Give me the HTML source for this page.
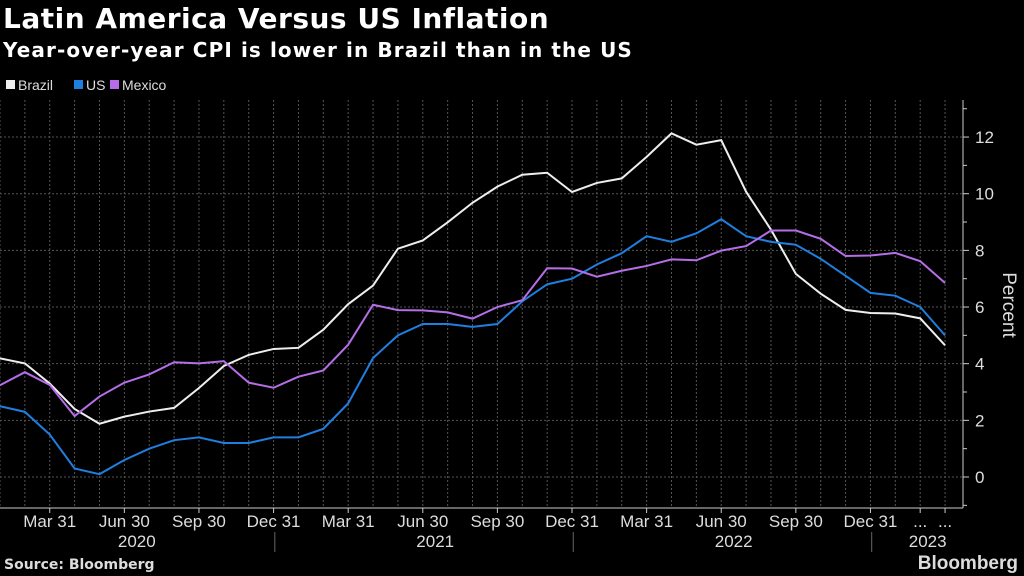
<!DOCTYPE html>
<html><head><meta charset="utf-8"><style>
body{margin:0;background:#000;width:1024px;height:576px;overflow:hidden;font-family:"Liberation Sans",sans-serif;color:#fff}
#t{position:absolute;left:3px;top:2px;font-size:28px;font-weight:bold;font-family:"DejaVu Sans",sans-serif;letter-spacing:0.5px}
#s{position:absolute;left:3px;top:38px;font-size:20px;font-weight:bold;font-family:"DejaVu Sans",sans-serif;letter-spacing:1.1px}
#src{position:absolute;left:4px;bottom:3px;font-size:14px;font-weight:bold;color:#ddd;font-family:"DejaVu Sans",sans-serif}
#bb{position:absolute;right:6px;bottom:1px;font-size:19px;font-weight:bold;color:#ddd}
</style></head><body>
<div id="t">Latin America Versus US Inflation</div>
<div id="s">Year-over-year CPI is lower in Brazil than in the US</div>
<div id="src">Source: Bloomberg</div>
<div id="bb">Bloomberg</div>
<svg id="c" width="1024" height="576" style="position:absolute;left:0;top:0"></svg>
<script>
const brazil=[4.19,4.01,3.30,2.40,1.88,2.13,2.31,2.44,3.14,3.92,4.31,4.52,4.56,5.20,6.10,6.76,8.06,8.35,8.99,9.68,10.25,10.67,10.74,10.06,10.38,10.54,11.30,12.13,11.73,11.89,10.07,8.73,7.17,6.47,5.90,5.79,5.77,5.60,4.65];
const us=[2.5,2.3,1.5,0.3,0.1,0.6,1.0,1.3,1.4,1.2,1.2,1.4,1.4,1.7,2.6,4.2,5.0,5.4,5.4,5.3,5.4,6.2,6.8,7.0,7.5,7.9,8.5,8.3,8.6,9.1,8.5,8.3,8.2,7.7,7.1,6.5,6.4,6.0,5.0];
const mexico=[3.24,3.70,3.25,2.15,2.84,3.33,3.62,4.05,4.01,4.09,3.33,3.15,3.54,3.76,4.67,6.08,5.89,5.88,5.81,5.59,6.00,6.24,7.37,7.36,7.07,7.28,7.45,7.68,7.65,7.99,8.15,8.70,8.70,8.41,7.80,7.82,7.91,7.62,6.85];
const yTicks=[0,2,4,6,8,10,12];
const xLabels=[[2,"Mar 31"],[5,"Jun 30"],[8,"Sep 30"],[11,"Dec 31"],[14,"Mar 31"],[17,"Jun 30"],[20,"Sep 30"],[23,"Dec 31"],[26,"Mar 31"],[29,"Jun 30"],[32,"Sep 30"],[35,"Dec 31"],[37,"..."],[38,"..."]];
const years=["2020","2021","2022","2023"];
const X=i=>i*24.87, Y=v=>477-28.33*v;
const svg=document.getElementById('c');const NS='http://www.w3.org/2000/svg';
function mk(t,a,p){const e=document.createElementNS(NS,t);for(const k in a)e.setAttribute(k,a[k]);(p||svg).appendChild(e);return e;}
for(let i=0;i<brazil.length;i++){const l=mk('line',{x1:X(i),x2:X(i),y1:100,y2:508,stroke:'#555','stroke-dasharray':'2,2','stroke-width':1});

}
for(let v=-1;v<=13;v++){ if(v%2===0){const g=mk('line',{x1:0,x2:963,y1:Y(v),y2:Y(v),stroke:'#555','stroke-dasharray':'2,2'});


const t=mk('text',{x:975,y:Y(v)+6,fill:'#ddd','font-size':17});t.textContent=v;

}
mk('line',{x1:963,x2:v%2===0?969:967,y1:Y(v),y2:Y(v),stroke:'#ccc'});}
mk('line',{x1:963,x2:963,y1:100,y2:508,stroke:'#ccc'});
mk('line',{x1:0,x2:963,y1:508,y2:508,stroke:'#ccc'});
xLabels.forEach(([i,s])=>{mk('line',{x1:X(i),x2:X(i),y1:508,y2:513,stroke:'#ccc'});const t=mk('text',{x:X(i),y:527,fill:'#ddd','font-size':17,'text-anchor':'middle'});t.textContent=s;

});
years.forEach((y,k)=>{const c=k<3?X(12*k+5.5):X(37.3);const t=mk('text',{x:c,y:547,fill:'#ddd','font-size':17,'text-anchor':'middle'});t.textContent=y;


if(k>0)mk('line',{x1:X(12*k-0.95),x2:X(12*k-0.95),y1:532,y2:552,stroke:'#666'});});
const pt=mk('text',{x:1003,y:305,fill:'#ddd','font-size':19,'text-anchor':'middle',transform:'rotate(90 1003 305)'});pt.textContent='Percent';


[[brazil,'#eeeeee','brazil-line'],[us,'#1f7fe0','us-line'],[mexico,'#b56ee8','mexico-line']].forEach(([d,c,n])=>{const p=mk('polyline',{points:d.map((v,i)=>X(i)+','+Y(v)).join(' '),fill:'none',stroke:c,'stroke-width':2});

});
let lx=6;[['Brazil','#eee'],['US','#1f7fe0'],['Mexico','#b56ee8']].forEach(([s,c])=>{const g=mk('g',{});

mk('rect',{x:lx,y:80,width:9,height:9,fill:c},g);const t=mk('text',{x:lx+12,y:90,fill:'#ddd','font-size':14},g);t.textContent=s;lx+=12+s.length*8+8;});
</script></body></html>
